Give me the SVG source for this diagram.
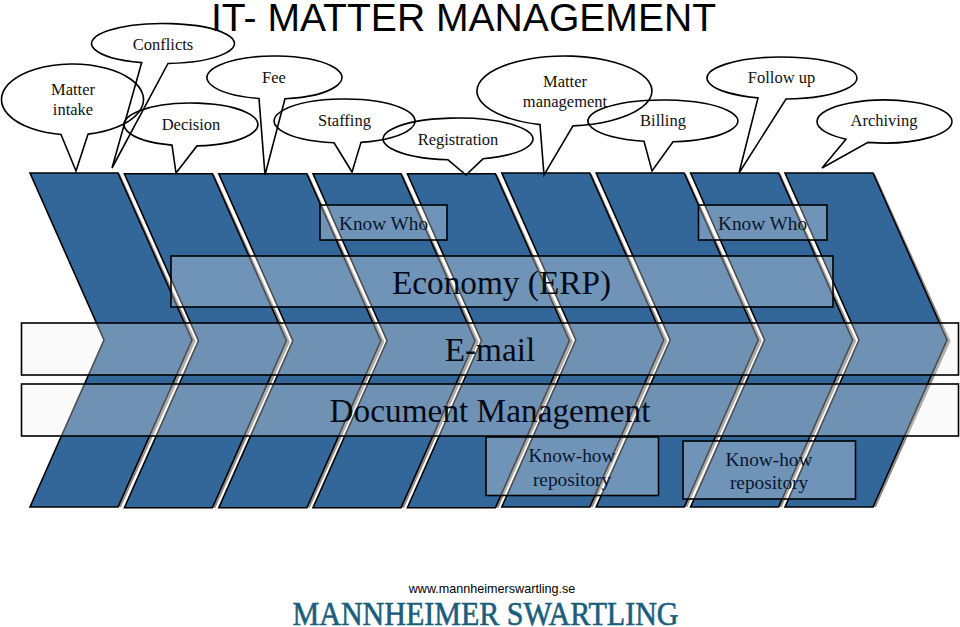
<svg xmlns="http://www.w3.org/2000/svg" xmlns:xlink="http://www.w3.org/1999/xlink" width="960" height="627" viewBox="0 0 960 627">
<style>
.call{fill:none;stroke:#000;stroke-width:1.6;stroke-linejoin:miter}
.chev{fill:#336699;stroke:#000;stroke-width:1.6;stroke-linejoin:miter}
.shad{fill:#8c8c8c}
.band{fill:#fff;fill-opacity:.3;stroke:#000;stroke-width:1.6}
.wide{fill:#eee;fill-opacity:.32}
text{font-family:"Liberation Serif","Times New Roman",serif;text-anchor:middle;fill:#000}
.c{font-size:16.5px;fill:#111}
.k{font-size:19.3px;fill:#0a1630}
.b{font-size:33.3px;fill:#050a18}
</style>
<defs>
<g id="chevron">
<polygon class="shad" points="118,173 192,340 118,507 121,507 195.5,341 120,174"/>
<polygon class="chev" points="30,173 118,173 192,340 118,507 30,507 104,340"/>
</g>
</defs>
<rect width="960" height="627" fill="#fff"/>
<g id="chevrons">
<use xlink:href="#chevron" href="#chevron"/>
<use xlink:href="#chevron" href="#chevron" transform="translate(94.4,0.7)"/>
<use xlink:href="#chevron" href="#chevron" transform="translate(188.8,0.7)"/>
<use xlink:href="#chevron" href="#chevron" transform="translate(283,0.7)"/>
<use xlink:href="#chevron" href="#chevron" transform="translate(377.4,0.7)"/>
<use xlink:href="#chevron" href="#chevron" transform="translate(471.8,0)"/>
<use xlink:href="#chevron" href="#chevron" transform="translate(566.2,0)"/>
<use xlink:href="#chevron" href="#chevron" transform="translate(660.6,0)"/>
<use xlink:href="#chevron" href="#chevron" transform="translate(755,0)"/>
</g>
<g id="know-who-1"><rect class="band" x="320" y="205" width="127" height="35"/><text class="k" x="383.5" y="230">Know Who</text></g>
<g id="know-who-2"><rect class="band" x="698.500" y="205" width="128.500" height="35"/><text class="k" x="762.500" y="230">Know Who</text></g>
<g id="economy"><rect class="band" x="171" y="256" width="662" height="51"/><text class="b" x="501.500" y="294">Economy (ERP)</text></g>
<g id="email"><rect class="band wide" x="21.500" y="323" width="937" height="52"/><text class="b" x="490" y="361">E-mail</text></g>
<g id="document-management"><rect class="band wide" x="21.500" y="384" width="937" height="52"/><text class="b" x="490" y="422">Document Management</text></g>
<g id="know-how-1"><rect class="band" x="486" y="437" width="172.500" height="58.500"/><text class="k" x="572" y="462">Know-how</text><text class="k" x="572" y="486">repository</text></g>
<g id="know-how-2"><rect class="band" x="683" y="441" width="172.500" height="58"/><text class="k" x="769" y="466">Know-how</text><text class="k" x="769" y="489">repository</text></g>
<g id="matter-intake"><path class="call" d="M61 134.530L76 171L88 134.140A71 35.500 0 1 0 61 134.530Z"/><text class="c" x="73" y="95">Matter</text><text class="c" x="73" y="115">intake</text></g>
<g id="conflicts"><path class="call" d="M141.700 62.590L112 168L168 63.450A71.500 20 0 1 0 141.700 62.590Z"/><text class="c" x="163" y="50">Conflicts</text></g>
<g id="decision"><path class="call" d="M172 145.120L176 173L197 145.910A67 21.500 0 1 0 172 145.120Z"/><text class="c" x="191" y="130">Decision</text></g>
<g id="fee"><path class="call" d="M259 98.430L265 175L285 98.740A67.500 21.500 0 1 0 259 98.430Z"/><text class="c" x="274" y="83">Fee</text></g>
<g id="staffing"><path class="call" d="M334 142.750L352 172L361 142.390A70.500 22 0 1 0 334 142.750Z"/><text class="c" x="344.500" y="126">Staffing</text></g>
<g id="registration"><path class="call" d="M448 159.810L466 175L483 158.800A75 21 0 1 0 448 159.810Z"/><text class="c" x="458" y="145">Registration</text></g>
<g id="matter-management"><path class="call" d="M540 124.600L544 175L573 125.830A87.500 35 0 1 0 540 124.600Z"/><text class="c" x="565" y="87">Matter</text><text class="c" x="565" y="107">management</text></g>
<g id="billing"><path class="call" d="M644 141.320L652 171L673 141.810A75 21 0 1 0 644 141.320Z"/><text class="c" x="663" y="126">Billing</text></g>
<g id="follow-up"><path class="call" d="M758 97.900L739 173L786 98.970A75 21 0 1 0 758 97.900Z"/><text class="c" x="781.500" y="83">Follow up</text></g>
<g id="archiving"><path class="call" d="M846 139.160L822 168L868 142.350A67.500 21.500 0 1 0 846 139.160Z"/><text class="c" x="884" y="126">Archiving</text></g>
<text id="title" x="463.500" y="31" style="font-family:'Liberation Sans',Arial,sans-serif;font-size:39.100px">IT- MATTER MANAGEMENT</text>
<text id="url" x="492" y="593" style="font-family:'Liberation Sans',Arial,sans-serif;font-size:12.600px">www.mannheimerswartling.se</text>
<text id="logo" x="485.500" y="624.500" textLength="386" lengthAdjust="spacingAndGlyphs" style="font-size:33px;fill:#1a5e7c;stroke:#1a5e7c;stroke-width:.6">MANNHEIMER SWARTLING</text>
</svg>
